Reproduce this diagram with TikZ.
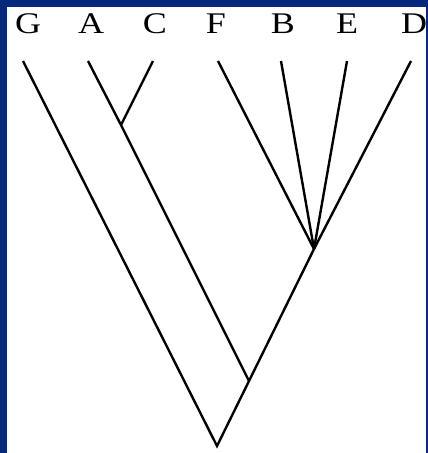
\documentclass[tikz,border=0pt]{standalone}
\usepackage{fontspec}
\newfontfamily\lblfont[FakeStretch=1.2]{Liberation Serif}
\definecolor{framebl}{RGB}{6,40,124}
\begin{document}
\begin{tikzpicture}[x=1pt,y=-1pt,
  branch/.style={line width=2.4pt,line join=miter,line cap=butt},
  taxon/.style={font=\lblfont\fontsize{30}{32}\selectfont,anchor=base,inner sep=0pt}]
\useasboundingbox (0,0) rectangle (428,453);
\fill[white] (0,0) rectangle (428,453);
% labels
\node[taxon] (G) at (28,33) {G};
\node[taxon] (A) at (91,33) {A};
\node[taxon] (C) at (155,33) {C};
\node[taxon] (F) at (216,33) {F};
\node[taxon] (B) at (283,33) {B};
\node[taxon] (E) at (347,33) {E};
\node[taxon] (D) at (414,33) {D};
% tips
\coordinate (g) at (23,61);
\coordinate (a) at (88,61);
\coordinate (c) at (153,61);
\coordinate (f) at (218,61);
\coordinate (b) at (281,61);
\coordinate (e) at (347,61);
\coordinate (d) at (411,61);
% internal nodes
\coordinate (ac) at (121,125);
\coordinate (poly) at (314,249);
\coordinate (mid) at (249,381);
\coordinate (root) at (217,446);
\draw[branch] (g) -- (root) -- (mid) -- (poly) -- (d);
\draw[branch] (a) -- (ac) -- (mid);
\draw[branch] (c) -- (ac);
\draw[branch] (f) -- (poly);
\draw[branch] (b) -- (poly);
\draw[branch] (e) -- (poly);
% frame
\fill[framebl] (0,0) rectangle (428,7);
\fill[framebl] (0,0) rectangle (7,453);
\fill[framebl] (426,0) rectangle (428,453);
\end{tikzpicture}
\end{document}
